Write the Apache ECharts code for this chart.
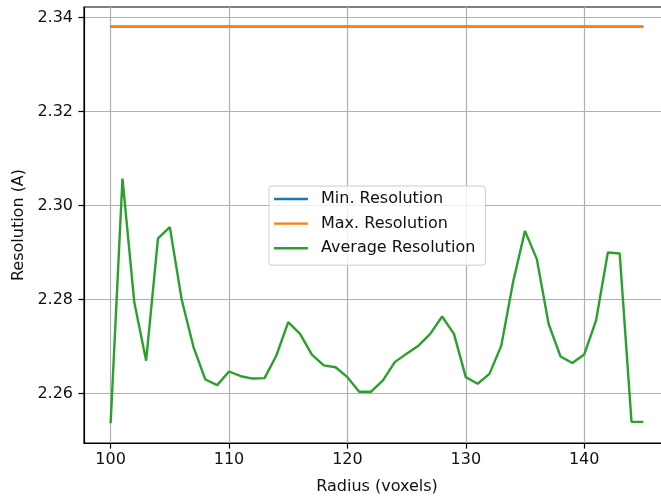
<!DOCTYPE html>
<html><head><meta charset="utf-8">
<script src="https://cdn.jsdelivr.net/npm/echarts@6/dist/echarts.min.js"></script>
<style>html,body{margin:0;padding:0;background:#fff}#c{width:661px;height:497px}</style>
</head><body><div id="c"></div>
<script>
const radii = [100,101,102,103,104,105,106,107,108,109,110,111,112,113,114,115,116,117,118,119,120,121,122,123,124,125,126,127,128,129,130,131,132,133,134,135,136,137,138,139,140,141,142,143,144,145];
const minResolution = [2.338,2.338,2.338,2.338,2.338,2.338,2.338,2.338,2.338,2.338,2.338,2.338,2.338,2.338,2.338,2.338,2.338,2.338,2.338,2.338,2.338,2.338,2.338,2.338,2.338,2.338,2.338,2.338,2.338,2.338,2.338,2.338,2.338,2.338,2.338,2.338,2.338,2.338,2.338,2.338,2.338,2.338,2.338,2.338,2.338,2.338];
const maxResolution = [2.338,2.338,2.338,2.338,2.338,2.338,2.338,2.338,2.338,2.338,2.338,2.338,2.338,2.338,2.338,2.338,2.338,2.338,2.338,2.338,2.338,2.338,2.338,2.338,2.338,2.338,2.338,2.338,2.338,2.338,2.338,2.338,2.338,2.338,2.338,2.338,2.338,2.338,2.338,2.338,2.338,2.338,2.338,2.338,2.338,2.338];
const avgResolution = [2.2537,2.3057,2.2794,2.2670,2.2930,2.2954,2.2800,2.2699,2.2630,2.2618,
  2.2647,2.2637,2.2632,2.2633,2.2681,2.2752,2.2727,2.2683,2.2660,2.2656,
  2.2635,2.2604,2.2604,2.2628,2.2667,2.2685,2.2702,2.2727,2.2764,2.2727,
  2.2635,2.2621,2.2642,2.2702,2.2838,2.2946,2.2886,2.2748,2.2679,2.2665,
  2.2683,2.2755,2.2900,2.2898,2.2540,2.2540];
const xTicks = [100,110,120,130,140];
const yTicks = [2.26,2.28,2.30,2.32,2.34];
const seriesNames = ['Min. Resolution','Max. Resolution','Average Resolution'];
const colors = ['#1f77b4','#ff7f0e','#2ca02c'];

const FONT = 'DejaVu Sans';
const pairs = arr => radii.map((r,i)=>[r, arr[i]]);
const chart = echarts.init(document.getElementById('c'), null, {renderer:'canvas'});
const lineSeries = (name, data, color) => ({
  name, type:'line', data: pairs(data), showSymbol:false, symbol:'none',
  lineStyle:{color, width:2.4}, itemStyle:{color}, animation:false
});
chart.setOption({
  animation:false,
  backgroundColor:'#fff',
  grid:{left:84, top:7, right:-9, bottom:54, outerBoundsMode:'none', containLabel:false,
        show:true, borderColor:'#000', borderWidth:1.2, backgroundColor:'transparent'},
  legend:{
    orient:'vertical', left:269, top:186,
    data: seriesNames,
    icon:'rect', itemWidth:34, itemHeight:2.4, itemGap:6.6,
    padding:[4,10,8,5],
    backgroundColor:'rgba(255,255,255,0.8)', borderColor:'#cccccc', borderWidth:1, borderRadius:3,
    textStyle:{fontFamily:FONT, fontSize:16, color:'#111', lineHeight:18, padding:[0,0,0,8]}
  },
  xAxis:{
    type:'value', min:97.75, max:147.25,
    name:'Radius (voxels)', nameLocation:'middle', nameGap:36,
    nameTextStyle:{fontFamily:FONT, fontSize:16, color:'#111'},
    axisLine:{show:true, onZero:false, lineStyle:{color:'#000', width:1.2}},
    axisTick:{show:true, length:5.6, lineStyle:{color:'#000', width:1.2}, customValues:xTicks},
    axisLabel:{fontFamily:FONT, fontSize:16, color:'#111', margin:9, customValues:xTicks, formatter: v=>String(v)},
    splitLine:{show:true, lineStyle:{color:'#b0b0b0', width:1.2}}
  },
  yAxis:{
    type:'value', min:2.2495, max:2.3422,
    name:'Resolution (A)', nameLocation:'middle', nameGap:55,
    nameTextStyle:{fontFamily:FONT, fontSize:16, color:'#111'},
    axisLine:{show:true, onZero:false, lineStyle:{color:'#000', width:1.2}},
    axisTick:{show:true, length:5.6, lineStyle:{color:'#000', width:1.2}, customValues:yTicks},
    axisLabel:{fontFamily:FONT, fontSize:16, color:'#111', margin:11, customValues:yTicks, formatter: v=>v.toFixed(2)},
    splitLine:{show:true, lineStyle:{color:'#b0b0b0', width:1.2}}
  },
  series:[
    lineSeries(seriesNames[0], minResolution, colors[0]),
    lineSeries(seriesNames[1], maxResolution, colors[1]),
    lineSeries(seriesNames[2], avgResolution, colors[2])
  ]
});
</script></body></html>
